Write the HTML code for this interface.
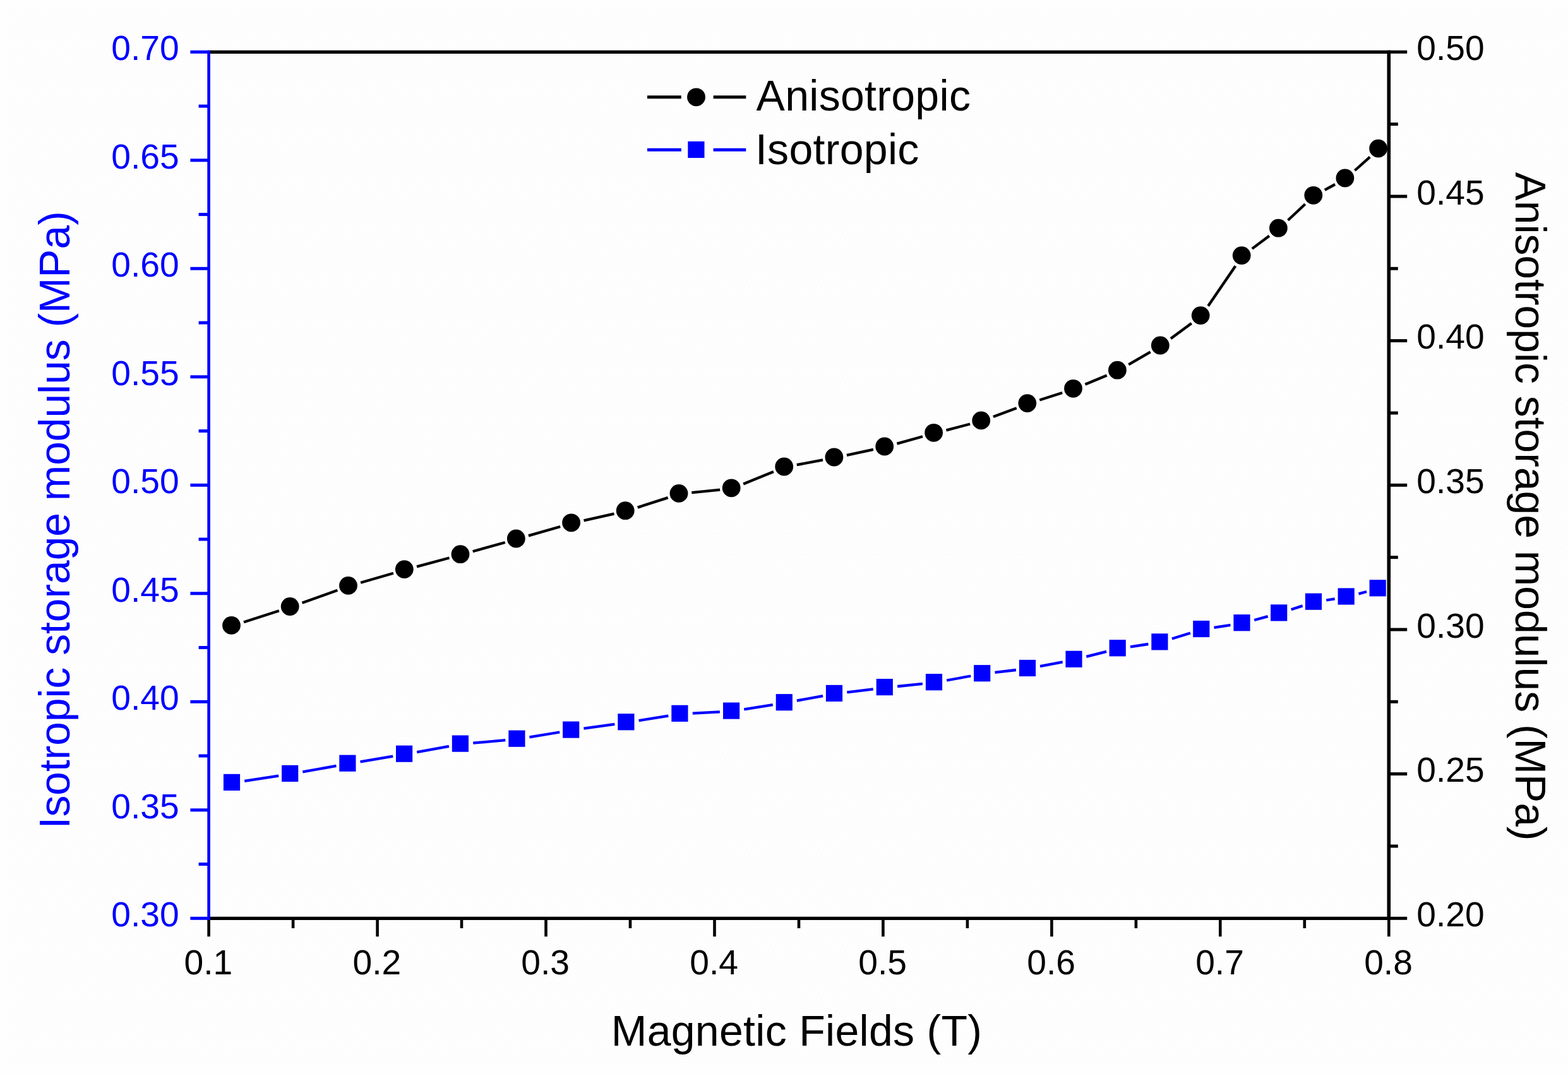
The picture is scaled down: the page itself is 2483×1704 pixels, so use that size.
<!DOCTYPE html>
<html lang="en">
<head>
<meta charset="utf-8">
<title>Storage modulus vs magnetic field</title>
<style>
html,body{margin:0;padding:0;background:#fefefe;}
body{width:2483px;height:1704px;overflow:hidden;}
svg{display:block;}
text{font-family:"Liberation Sans",Arial,Helvetica,sans-serif;}
.t{font-size:55.2px;}
.l{font-size:68.0px;letter-spacing:0.3px;}
.v{font-size:67.8px;}
</style>
</head>
<body>
<svg width="2483" height="1704" viewBox="0 0 2483 1704">
<defs><pattern id="dither" x="14" y="13" width="6" height="12" patternUnits="userSpaceOnUse"><rect x="5" y="0" width="1" height="1" fill="#f3f3f3"/><rect x="3" y="4" width="1" height="1" fill="#f3f3f3"/><rect x="1" y="8" width="1" height="1" fill="#f3f3f3"/></pattern></defs>
<rect x="0" y="0" width="2483" height="1704" fill="#fefefe"/>
<rect x="14" y="13" width="2469" height="1671" fill="url(#dither)"/>
<g id="series-isotropic">
<line x1="387.2" y1="1236.8" x2="441.2" y2="1228.6" stroke="#0000ff" stroke-width="4.3" stroke-linecap="butt"/>
<line x1="479.3" y1="1222.3" x2="532.5" y2="1212.9" stroke="#0000ff" stroke-width="4.3" stroke-linecap="butt"/>
<line x1="570.5" y1="1206.3" x2="622.2" y2="1197.7" stroke="#0000ff" stroke-width="4.3" stroke-linecap="butt"/>
<line x1="660.2" y1="1191.1" x2="711.0" y2="1181.8" stroke="#0000ff" stroke-width="4.3" stroke-linecap="butt"/>
<line x1="749.2" y1="1176.7" x2="800.3" y2="1172.2" stroke="#0000ff" stroke-width="4.3" stroke-linecap="butt"/>
<line x1="838.5" y1="1167.4" x2="886.3" y2="1159.5" stroke="#0000ff" stroke-width="4.3" stroke-linecap="butt"/>
<line x1="924.4" y1="1153.7" x2="973.4" y2="1146.8" stroke="#0000ff" stroke-width="4.3" stroke-linecap="butt"/>
<line x1="1011.6" y1="1141.1" x2="1058.4" y2="1133.6" stroke="#0000ff" stroke-width="4.3" stroke-linecap="butt"/>
<line x1="1096.8" y1="1129.6" x2="1139.9" y2="1127.4" stroke="#0000ff" stroke-width="4.3" stroke-linecap="butt"/>
<line x1="1178.3" y1="1123.3" x2="1223.8" y2="1116.1" stroke="#0000ff" stroke-width="4.3" stroke-linecap="butt"/>
<line x1="1261.9" y1="1109.6" x2="1303.1" y2="1102.1" stroke="#0000ff" stroke-width="4.3" stroke-linecap="butt"/>
<line x1="1341.3" y1="1096.3" x2="1382.7" y2="1091.3" stroke="#0000ff" stroke-width="4.3" stroke-linecap="butt"/>
<line x1="1421.1" y1="1087.0" x2="1460.9" y2="1082.9" stroke="#0000ff" stroke-width="4.3" stroke-linecap="butt"/>
<line x1="1499.1" y1="1077.5" x2="1537.3" y2="1070.5" stroke="#0000ff" stroke-width="4.3" stroke-linecap="butt"/>
<line x1="1575.5" y1="1064.8" x2="1608.9" y2="1061.0" stroke="#0000ff" stroke-width="4.3" stroke-linecap="butt"/>
<line x1="1647.0" y1="1055.1" x2="1682.7" y2="1048.3" stroke="#0000ff" stroke-width="4.3" stroke-linecap="butt"/>
<line x1="1720.3" y1="1039.9" x2="1752.1" y2="1031.8" stroke="#0000ff" stroke-width="4.3" stroke-linecap="butt"/>
<line x1="1789.9" y1="1024.3" x2="1818.4" y2="1020.0" stroke="#0000ff" stroke-width="4.3" stroke-linecap="butt"/>
<line x1="1855.9" y1="1011.5" x2="1885.0" y2="1002.5" stroke="#0000ff" stroke-width="4.3" stroke-linecap="butt"/>
<line x1="1922.5" y1="993.9" x2="1948.5" y2="989.9" stroke="#0000ff" stroke-width="4.3" stroke-linecap="butt"/>
<line x1="1986.2" y1="982.0" x2="2007.7" y2="976.2" stroke="#0000ff" stroke-width="4.3" stroke-linecap="butt"/>
<line x1="2044.7" y1="965.3" x2="2062.7" y2="959.4" stroke="#0000ff" stroke-width="4.3" stroke-linecap="butt"/>
<line x1="2100.2" y1="950.5" x2="2113.7" y2="948.3" stroke="#0000ff" stroke-width="4.3" stroke-linecap="butt"/>
<line x1="2151.5" y1="940.4" x2="2164.1" y2="937.0" stroke="#0000ff" stroke-width="4.3" stroke-linecap="butt"/>
<rect x="353.9" y="1225.8" width="26.2" height="26.2" fill="#0000ff"/>
<rect x="446.1" y="1211.8" width="26.2" height="26.2" fill="#0000ff"/>
<rect x="537.3" y="1195.6" width="26.2" height="26.2" fill="#0000ff"/>
<rect x="627.0" y="1180.6" width="26.2" height="26.2" fill="#0000ff"/>
<rect x="715.8" y="1164.5" width="26.2" height="26.2" fill="#0000ff"/>
<rect x="805.3" y="1156.6" width="26.2" height="26.2" fill="#0000ff"/>
<rect x="891.1" y="1142.5" width="26.2" height="26.2" fill="#0000ff"/>
<rect x="978.3" y="1130.2" width="26.2" height="26.2" fill="#0000ff"/>
<rect x="1063.3" y="1116.7" width="26.2" height="26.2" fill="#0000ff"/>
<rect x="1145.0" y="1112.5" width="26.2" height="26.2" fill="#0000ff"/>
<rect x="1228.7" y="1099.1" width="26.2" height="26.2" fill="#0000ff"/>
<rect x="1307.9" y="1084.8" width="26.2" height="26.2" fill="#0000ff"/>
<rect x="1387.7" y="1075.0" width="26.2" height="26.2" fill="#0000ff"/>
<rect x="1465.9" y="1067.1" width="26.2" height="26.2" fill="#0000ff"/>
<rect x="1542.1" y="1053.1" width="26.2" height="26.2" fill="#0000ff"/>
<rect x="1613.9" y="1044.9" width="26.2" height="26.2" fill="#0000ff"/>
<rect x="1687.4" y="1030.7" width="26.2" height="26.2" fill="#0000ff"/>
<rect x="1756.6" y="1013.2" width="26.2" height="26.2" fill="#0000ff"/>
<rect x="1823.3" y="1003.3" width="26.2" height="26.2" fill="#0000ff"/>
<rect x="1889.2" y="982.9" width="26.2" height="26.2" fill="#0000ff"/>
<rect x="1953.4" y="973.1" width="26.2" height="26.2" fill="#0000ff"/>
<rect x="2012.1" y="957.3" width="26.2" height="26.2" fill="#0000ff"/>
<rect x="2066.9" y="939.6" width="26.2" height="26.2" fill="#0000ff"/>
<rect x="2118.6" y="931.4" width="26.2" height="26.2" fill="#0000ff"/>
<rect x="2168.6" y="918.2" width="26.2" height="26.2" fill="#0000ff"/>
</g>
<g id="series-anisotropic">
<line x1="386.0" y1="985.3" x2="441.9" y2="967.2" stroke="#000000" stroke-width="4.3" stroke-linecap="butt"/>
<line x1="478.5" y1="954.8" x2="534.4" y2="934.7" stroke="#000000" stroke-width="4.3" stroke-linecap="butt"/>
<line x1="571.1" y1="922.8" x2="622.9" y2="907.8" stroke="#000000" stroke-width="4.3" stroke-linecap="butt"/>
<line x1="660.0" y1="897.4" x2="711.5" y2="883.5" stroke="#000000" stroke-width="4.3" stroke-linecap="butt"/>
<line x1="748.7" y1="873.3" x2="799.8" y2="859.0" stroke="#000000" stroke-width="4.3" stroke-linecap="butt"/>
<line x1="836.9" y1="848.4" x2="887.2" y2="834.0" stroke="#000000" stroke-width="4.3" stroke-linecap="butt"/>
<line x1="924.5" y1="824.4" x2="972.5" y2="813.7" stroke="#000000" stroke-width="4.3" stroke-linecap="butt"/>
<line x1="1009.7" y1="803.6" x2="1057.7" y2="788.1" stroke="#000000" stroke-width="4.3" stroke-linecap="butt"/>
<line x1="1095.3" y1="780.2" x2="1140.1" y2="775.6" stroke="#000000" stroke-width="4.3" stroke-linecap="butt"/>
<line x1="1177.2" y1="766.4" x2="1224.9" y2="747.0" stroke="#000000" stroke-width="4.3" stroke-linecap="butt"/>
<line x1="1261.8" y1="736.2" x2="1303.0" y2="728.4" stroke="#000000" stroke-width="4.3" stroke-linecap="butt"/>
<line x1="1340.9" y1="720.8" x2="1382.9" y2="711.8" stroke="#000000" stroke-width="4.3" stroke-linecap="butt"/>
<line x1="1420.4" y1="702.6" x2="1461.1" y2="691.3" stroke="#000000" stroke-width="4.3" stroke-linecap="butt"/>
<line x1="1498.4" y1="681.3" x2="1536.1" y2="671.5" stroke="#000000" stroke-width="4.3" stroke-linecap="butt"/>
<line x1="1572.9" y1="659.9" x2="1609.8" y2="646.2" stroke="#000000" stroke-width="4.3" stroke-linecap="butt"/>
<line x1="1646.3" y1="633.5" x2="1682.2" y2="622.0" stroke="#000000" stroke-width="4.3" stroke-linecap="butt"/>
<line x1="1718.4" y1="608.7" x2="1752.7" y2="594.4" stroke="#000000" stroke-width="4.3" stroke-linecap="butt"/>
<line x1="1787.2" y1="577.4" x2="1821.7" y2="557.4" stroke="#000000" stroke-width="4.3" stroke-linecap="butt"/>
<line x1="1853.9" y1="536.3" x2="1886.8" y2="511.9" stroke="#000000" stroke-width="4.3" stroke-linecap="butt"/>
<line x1="1913.2" y1="484.5" x2="1956.4" y2="421.3" stroke="#000000" stroke-width="4.3" stroke-linecap="butt"/>
<line x1="1982.8" y1="393.9" x2="2010.0" y2="373.5" stroke="#000000" stroke-width="4.3" stroke-linecap="butt"/>
<line x1="2039.6" y1="348.8" x2="2066.8" y2="323.3" stroke="#000000" stroke-width="4.3" stroke-linecap="butt"/>
<line x1="2097.8" y1="300.9" x2="2114.1" y2="292.0" stroke="#000000" stroke-width="4.3" stroke-linecap="butt"/>
<line x1="2145.4" y1="270.0" x2="2169.3" y2="248.7" stroke="#000000" stroke-width="4.3" stroke-linecap="butt"/>
<circle cx="366.5" cy="990.4" r="14.4" fill="#000000"/>
<circle cx="459.2" cy="960.5" r="14.4" fill="#000000"/>
<circle cx="551.5" cy="927.4" r="14.4" fill="#000000"/>
<circle cx="640.3" cy="901.6" r="14.4" fill="#000000"/>
<circle cx="729.0" cy="877.7" r="14.4" fill="#000000"/>
<circle cx="817.3" cy="853.0" r="14.4" fill="#000000"/>
<circle cx="904.6" cy="827.8" r="14.4" fill="#000000"/>
<circle cx="990.2" cy="808.7" r="14.4" fill="#000000"/>
<circle cx="1075.0" cy="781.4" r="14.4" fill="#000000"/>
<circle cx="1158.2" cy="772.8" r="14.4" fill="#000000"/>
<circle cx="1241.7" cy="739.0" r="14.4" fill="#000000"/>
<circle cx="1320.9" cy="724.0" r="14.4" fill="#000000"/>
<circle cx="1400.7" cy="707.0" r="14.4" fill="#000000"/>
<circle cx="1478.6" cy="685.3" r="14.4" fill="#000000"/>
<circle cx="1553.7" cy="665.9" r="14.4" fill="#000000"/>
<circle cx="1626.8" cy="638.6" r="14.4" fill="#000000"/>
<circle cx="1699.5" cy="615.3" r="14.4" fill="#000000"/>
<circle cx="1769.4" cy="586.2" r="14.4" fill="#000000"/>
<circle cx="1837.3" cy="547.0" r="14.4" fill="#000000"/>
<circle cx="1901.2" cy="499.6" r="14.4" fill="#000000"/>
<circle cx="1966.2" cy="404.6" r="14.4" fill="#000000"/>
<circle cx="2024.4" cy="361.2" r="14.4" fill="#000000"/>
<circle cx="2079.8" cy="309.3" r="14.4" fill="#000000"/>
<circle cx="2129.9" cy="282.0" r="14.4" fill="#000000"/>
<circle cx="2182.6" cy="235.1" r="14.4" fill="#000000"/>
</g>
<g id="axes">
<line x1="330.6" y1="82.3" x2="2202.1" y2="82.3" stroke="#000000" stroke-width="5.2" stroke-linecap="butt"/>
<line x1="330.6" y1="1454.3" x2="2202.1" y2="1454.3" stroke="#000000" stroke-width="5.2" stroke-linecap="butt"/>
<line x1="2199.3" y1="79.7" x2="2199.3" y2="1456.9" stroke="#000000" stroke-width="5.6" stroke-linecap="butt"/>
<line x1="330.6" y1="1454.3" x2="330.6" y2="1483.2" stroke="#000000" stroke-width="4.6" stroke-linecap="butt"/>
<line x1="464.1" y1="1454.3" x2="464.1" y2="1470.0" stroke="#000000" stroke-width="4.6" stroke-linecap="butt"/>
<line x1="597.6" y1="1454.3" x2="597.6" y2="1483.2" stroke="#000000" stroke-width="4.6" stroke-linecap="butt"/>
<line x1="731.0" y1="1454.3" x2="731.0" y2="1470.0" stroke="#000000" stroke-width="4.6" stroke-linecap="butt"/>
<line x1="864.5" y1="1454.3" x2="864.5" y2="1483.2" stroke="#000000" stroke-width="4.6" stroke-linecap="butt"/>
<line x1="998.0" y1="1454.3" x2="998.0" y2="1470.0" stroke="#000000" stroke-width="4.6" stroke-linecap="butt"/>
<line x1="1131.5" y1="1454.3" x2="1131.5" y2="1483.2" stroke="#000000" stroke-width="4.6" stroke-linecap="butt"/>
<line x1="1265.0" y1="1454.3" x2="1265.0" y2="1470.0" stroke="#000000" stroke-width="4.6" stroke-linecap="butt"/>
<line x1="1398.4" y1="1454.3" x2="1398.4" y2="1483.2" stroke="#000000" stroke-width="4.6" stroke-linecap="butt"/>
<line x1="1531.9" y1="1454.3" x2="1531.9" y2="1470.0" stroke="#000000" stroke-width="4.6" stroke-linecap="butt"/>
<line x1="1665.4" y1="1454.3" x2="1665.4" y2="1483.2" stroke="#000000" stroke-width="4.6" stroke-linecap="butt"/>
<line x1="1798.9" y1="1454.3" x2="1798.9" y2="1470.0" stroke="#000000" stroke-width="4.6" stroke-linecap="butt"/>
<line x1="1932.3" y1="1454.3" x2="1932.3" y2="1483.2" stroke="#000000" stroke-width="4.6" stroke-linecap="butt"/>
<line x1="2065.8" y1="1454.3" x2="2065.8" y2="1470.0" stroke="#000000" stroke-width="4.6" stroke-linecap="butt"/>
<line x1="2199.3" y1="1454.3" x2="2199.3" y2="1483.2" stroke="#000000" stroke-width="4.6" stroke-linecap="butt"/>
<line x1="2199.3" y1="82.3" x2="2228.2" y2="82.3" stroke="#000000" stroke-width="5.0" stroke-linecap="butt"/>
<line x1="2199.3" y1="196.6" x2="2213.8" y2="196.6" stroke="#000000" stroke-width="5.0" stroke-linecap="butt"/>
<line x1="2199.3" y1="311.0" x2="2228.2" y2="311.0" stroke="#000000" stroke-width="5.0" stroke-linecap="butt"/>
<line x1="2199.3" y1="425.3" x2="2213.8" y2="425.3" stroke="#000000" stroke-width="5.0" stroke-linecap="butt"/>
<line x1="2199.3" y1="539.6" x2="2228.2" y2="539.6" stroke="#000000" stroke-width="5.0" stroke-linecap="butt"/>
<line x1="2199.3" y1="654.0" x2="2213.8" y2="654.0" stroke="#000000" stroke-width="5.0" stroke-linecap="butt"/>
<line x1="2199.3" y1="768.3" x2="2228.2" y2="768.3" stroke="#000000" stroke-width="5.0" stroke-linecap="butt"/>
<line x1="2199.3" y1="882.6" x2="2213.8" y2="882.6" stroke="#000000" stroke-width="5.0" stroke-linecap="butt"/>
<line x1="2199.3" y1="997.0" x2="2228.2" y2="997.0" stroke="#000000" stroke-width="5.0" stroke-linecap="butt"/>
<line x1="2199.3" y1="1111.3" x2="2213.8" y2="1111.3" stroke="#000000" stroke-width="5.0" stroke-linecap="butt"/>
<line x1="2199.3" y1="1225.6" x2="2228.2" y2="1225.6" stroke="#000000" stroke-width="5.0" stroke-linecap="butt"/>
<line x1="2199.3" y1="1340.0" x2="2213.8" y2="1340.0" stroke="#000000" stroke-width="5.0" stroke-linecap="butt"/>
<line x1="2199.3" y1="1454.3" x2="2228.2" y2="1454.3" stroke="#000000" stroke-width="5.0" stroke-linecap="butt"/>
<line x1="330.6" y1="79.7" x2="330.6" y2="1456.9" stroke="#0000ff" stroke-width="4.6" stroke-linecap="butt"/>
<line x1="301.4" y1="82.3" x2="330.6" y2="82.3" stroke="#0000ff" stroke-width="5.0" stroke-linecap="butt"/>
<line x1="314.6" y1="168.1" x2="330.6" y2="168.1" stroke="#0000ff" stroke-width="5.0" stroke-linecap="butt"/>
<line x1="301.4" y1="253.8" x2="330.6" y2="253.8" stroke="#0000ff" stroke-width="5.0" stroke-linecap="butt"/>
<line x1="314.6" y1="339.6" x2="330.6" y2="339.6" stroke="#0000ff" stroke-width="5.0" stroke-linecap="butt"/>
<line x1="301.4" y1="425.3" x2="330.6" y2="425.3" stroke="#0000ff" stroke-width="5.0" stroke-linecap="butt"/>
<line x1="314.6" y1="511.1" x2="330.6" y2="511.1" stroke="#0000ff" stroke-width="5.0" stroke-linecap="butt"/>
<line x1="301.4" y1="596.8" x2="330.6" y2="596.8" stroke="#0000ff" stroke-width="5.0" stroke-linecap="butt"/>
<line x1="314.6" y1="682.5" x2="330.6" y2="682.5" stroke="#0000ff" stroke-width="5.0" stroke-linecap="butt"/>
<line x1="301.4" y1="768.3" x2="330.6" y2="768.3" stroke="#0000ff" stroke-width="5.0" stroke-linecap="butt"/>
<line x1="314.6" y1="854.0" x2="330.6" y2="854.0" stroke="#0000ff" stroke-width="5.0" stroke-linecap="butt"/>
<line x1="301.4" y1="939.8" x2="330.6" y2="939.8" stroke="#0000ff" stroke-width="5.0" stroke-linecap="butt"/>
<line x1="314.6" y1="1025.5" x2="330.6" y2="1025.5" stroke="#0000ff" stroke-width="5.0" stroke-linecap="butt"/>
<line x1="301.4" y1="1111.3" x2="330.6" y2="1111.3" stroke="#0000ff" stroke-width="5.0" stroke-linecap="butt"/>
<line x1="314.6" y1="1197.0" x2="330.6" y2="1197.0" stroke="#0000ff" stroke-width="5.0" stroke-linecap="butt"/>
<line x1="301.4" y1="1282.8" x2="330.6" y2="1282.8" stroke="#0000ff" stroke-width="5.0" stroke-linecap="butt"/>
<line x1="314.6" y1="1368.5" x2="330.6" y2="1368.5" stroke="#0000ff" stroke-width="5.0" stroke-linecap="butt"/>
<line x1="301.4" y1="1454.3" x2="330.6" y2="1454.3" stroke="#0000ff" stroke-width="5.0" stroke-linecap="butt"/>
</g>
<g id="tick-labels" class="t">
<text x="283.7" y="95.0" text-anchor="end" fill="#0000ff">0.70</text>
<text x="283.7" y="266.5" text-anchor="end" fill="#0000ff">0.65</text>
<text x="283.7" y="438.0" text-anchor="end" fill="#0000ff">0.60</text>
<text x="283.7" y="609.5" text-anchor="end" fill="#0000ff">0.55</text>
<text x="283.7" y="781.0" text-anchor="end" fill="#0000ff">0.50</text>
<text x="283.7" y="952.5" text-anchor="end" fill="#0000ff">0.45</text>
<text x="283.7" y="1124.0" text-anchor="end" fill="#0000ff">0.40</text>
<text x="283.7" y="1295.5" text-anchor="end" fill="#0000ff">0.35</text>
<text x="283.7" y="1467.0" text-anchor="end" fill="#0000ff">0.30</text>
<text x="2243.2" y="95.0" fill="#000000">0.50</text>
<text x="2243.2" y="323.7" fill="#000000">0.45</text>
<text x="2243.2" y="552.3" fill="#000000">0.40</text>
<text x="2243.2" y="781.0" fill="#000000">0.35</text>
<text x="2243.2" y="1009.7" fill="#000000">0.30</text>
<text x="2243.2" y="1238.3" fill="#000000">0.25</text>
<text x="2243.2" y="1467.0" fill="#000000">0.20</text>
<text x="329.8" y="1542.8" text-anchor="middle" fill="#000000">0.1</text>
<text x="596.8" y="1542.8" text-anchor="middle" fill="#000000">0.2</text>
<text x="863.7" y="1542.8" text-anchor="middle" fill="#000000">0.3</text>
<text x="1130.7" y="1542.8" text-anchor="middle" fill="#000000">0.4</text>
<text x="1397.6" y="1542.8" text-anchor="middle" fill="#000000">0.5</text>
<text x="1664.6" y="1542.8" text-anchor="middle" fill="#000000">0.6</text>
<text x="1931.5" y="1542.8" text-anchor="middle" fill="#000000">0.7</text>
<text x="2198.5" y="1542.8" text-anchor="middle" fill="#000000">0.8</text>
</g>
<g id="titles">
<text class="v" style="font-size:67.7px" transform="translate(110,1312.4) rotate(-90)" fill="#0000ff">Isotropic storage modulus (MPa)</text>
<text class="v" transform="translate(2400.1,272.6) rotate(90)" fill="#000000">Anisotropic storage modulus (MPa)</text>
<text class="l" x="967.7" y="1656.0" fill="#000000">Magnetic Fields (T)</text>
</g>
<g id="legend" class="l">
<line x1="1025.0" y1="153.8" x2="1078.8" y2="153.8" stroke="#000000" stroke-width="5.0" stroke-linecap="butt"/>
<line x1="1129.6" y1="153.8" x2="1181.3" y2="153.8" stroke="#000000" stroke-width="5.0" stroke-linecap="butt"/>
<circle cx="1102.5" cy="153.8" r="14.4" fill="#000000"/>
<text x="1197.5" y="175.2" fill="#000000">Anisotropic</text>
<line x1="1025.0" y1="237.3" x2="1078.8" y2="237.3" stroke="#0000ff" stroke-width="5.0" stroke-linecap="butt"/>
<line x1="1129.6" y1="237.3" x2="1181.3" y2="237.3" stroke="#0000ff" stroke-width="5.0" stroke-linecap="butt"/>
<rect x="1089.3" y="223.9" width="26.2" height="26.2" fill="#0000ff"/>
<text x="1195.9" y="259.9" fill="#000000">Isotropic</text>
</g>
</svg>
</body>
</html>
